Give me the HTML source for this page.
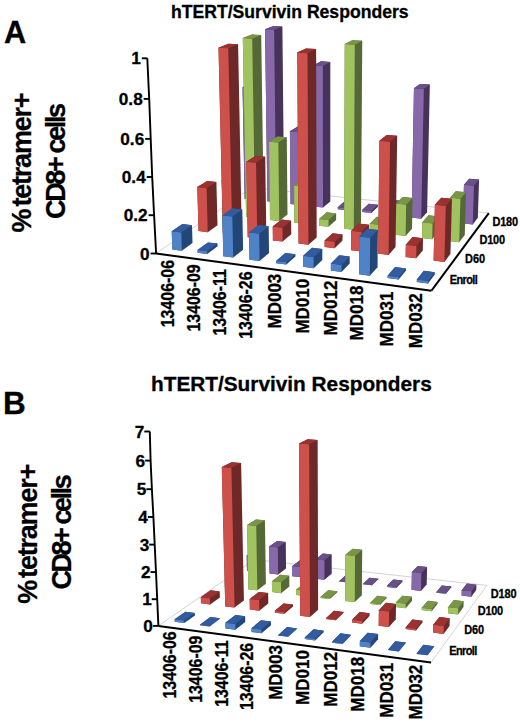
<!DOCTYPE html>
<html><head><meta charset="utf-8">
<title>hTERT/Survivin Responders</title>
<style>
html,body{margin:0;padding:0;background:#fff;}
body{width:520px;height:723px;overflow:hidden;}
svg{display:block;}
text{font-family:'Liberation Sans',sans-serif;font-weight:bold;stroke:#000;stroke-width:0.3px}
</style></head><body>
<svg width="520" height="723" viewBox="0 0 520 723">
<polyline points="156.00,253.50 252.00,187.40 488.80,213.10" fill="none" stroke="#d4d4d4" stroke-width="1"/>
<polygon points="244.66,198.77 253.27,199.74 261.50,193.86 259.85,83.62 251.16,82.98 242.57,87.16" fill="#46325a"/>
<polygon points="244.66,198.77 253.27,199.74 251.39,87.82 242.57,87.16" fill="#8769aa"/>
<polygon points="242.57,87.16 251.39,87.82 259.85,83.62 251.16,82.98" fill="#695087"/>
<polygon points="267.42,201.33 276.16,202.32 284.09,196.35 282.39,26.51 273.45,26.03 265.06,29.34" fill="#46325a"/>
<polygon points="267.42,201.33 276.16,202.32 274.13,29.84 265.06,29.34" fill="#8769aa"/>
<polygon points="265.06,29.34 274.13,29.84 282.39,26.51 273.45,26.03" fill="#695087"/>
<polygon points="290.53,203.94 299.40,204.93 307.02,198.88 306.66,127.20 297.77,126.43 289.90,131.36" fill="#46325a"/>
<polygon points="290.53,203.94 299.40,204.93 298.92,132.15 289.90,131.36" fill="#8769aa"/>
<polygon points="289.90,131.36 298.92,132.15 306.66,127.20 297.77,126.43" fill="#695087"/>
<polygon points="313.99,206.58 323.01,207.59 330.30,201.45 330.32,61.96 321.15,61.37 313.50,65.31" fill="#46325a"/>
<polygon points="313.99,206.58 323.01,207.59 322.80,65.92 313.50,65.31" fill="#8769aa"/>
<polygon points="313.50,65.31 322.80,65.92 330.32,61.96 321.15,61.37" fill="#695087"/>
<polygon points="337.83,209.26 346.98,210.29 353.94,204.06 353.95,202.05 344.92,201.06 337.83,207.23" fill="#46325a"/>
<polygon points="337.83,209.26 346.98,210.29 346.99,208.26 337.83,207.23" fill="#8769aa"/>
<polygon points="337.83,207.23 346.99,208.26 353.95,202.05 344.92,201.06" fill="#695087"/>
<polygon points="362.04,211.99 371.34,213.04 377.95,206.71 377.97,204.69 368.80,203.68 362.05,209.94" fill="#46325a"/>
<polygon points="362.04,211.99 371.34,213.04 371.36,210.98 362.05,209.94" fill="#8769aa"/>
<polygon points="362.05,209.94 371.36,210.98 377.97,204.69 368.80,203.68" fill="#695087"/>
<polygon points="386.63,214.76 396.08,215.82 402.33,209.40 402.47,200.90 393.14,199.90 386.74,206.15" fill="#46325a"/>
<polygon points="386.63,214.76 396.08,215.82 396.21,207.19 386.74,206.15" fill="#8769aa"/>
<polygon points="386.74,206.15 396.21,207.19 402.47,200.90 393.14,199.90" fill="#695087"/>
<polygon points="411.62,217.57 421.23,218.65 427.10,212.13 429.84,84.57 420.10,83.89 413.96,88.34" fill="#46325a"/>
<polygon points="411.62,217.57 421.23,218.65 423.84,89.04 413.96,88.34" fill="#8769aa"/>
<polygon points="413.96,88.34 423.84,89.04 429.84,84.57 420.10,83.89" fill="#695087"/>
<polygon points="437.02,220.43 446.77,221.53 452.27,214.91 452.41,209.74 442.79,208.69 437.14,215.20" fill="#46325a"/>
<polygon points="437.02,220.43 446.77,221.53 446.91,216.28 437.14,215.20" fill="#8769aa"/>
<polygon points="437.14,215.20 446.91,216.28 452.41,209.74 442.79,208.69" fill="#695087"/>
<polygon points="462.82,223.34 472.74,224.46 477.84,217.73 479.08,179.60 469.23,178.63 463.96,184.71" fill="#46325a"/>
<polygon points="462.82,223.34 472.74,224.46 473.96,185.72 463.96,184.71" fill="#8769aa"/>
<polygon points="463.96,184.71 473.96,185.72 479.08,179.60 469.23,178.63" fill="#695087"/>
<polygon points="222.57,214.25 231.47,215.30 240.40,208.92 239.74,174.92 230.89,173.99 221.75,179.81" fill="#556937"/>
<polygon points="222.57,214.25 231.47,215.30 230.72,180.77 221.75,179.81" fill="#a0c35f"/>
<polygon points="221.75,179.81 230.72,180.77 239.74,174.92 230.89,173.99" fill="#789646"/>
<polygon points="246.11,217.04 255.15,218.11 263.77,211.64 261.20,35.05 251.94,34.52 242.81,38.12" fill="#556937"/>
<polygon points="246.11,217.04 255.15,218.11 252.20,38.67 242.81,38.12" fill="#a0c35f"/>
<polygon points="242.81,38.12 252.20,38.67 261.20,35.05 251.94,34.52" fill="#789646"/>
<polygon points="270.03,219.88 279.22,220.97 287.50,214.40 286.78,137.25 277.56,136.42 269.00,141.74" fill="#556937"/>
<polygon points="270.03,219.88 279.22,220.97 278.35,142.60 269.00,141.74" fill="#a0c35f"/>
<polygon points="269.00,141.74 278.35,142.60 286.78,137.25 277.56,136.42" fill="#789646"/>
<polygon points="294.34,222.77 303.68,223.87 311.61,217.20 311.46,180.51 302.18,179.54 294.05,185.60" fill="#556937"/>
<polygon points="294.34,222.77 303.68,223.87 303.46,186.60 294.05,185.60" fill="#a0c35f"/>
<polygon points="294.05,185.60 303.46,186.60 311.46,180.51 302.18,179.54" fill="#789646"/>
<polygon points="319.04,225.70 328.54,226.82 336.10,220.04 336.11,213.43 326.74,212.36 319.03,219.00" fill="#556937"/>
<polygon points="319.04,225.70 328.54,226.82 328.53,220.11 319.03,219.00" fill="#a0c35f"/>
<polygon points="319.03,219.00 328.53,220.11 336.11,213.43 326.74,212.36" fill="#789646"/>
<polygon points="344.15,228.68 353.80,229.82 361.00,222.94 362.25,40.84 352.36,40.27 344.74,44.10" fill="#556937"/>
<polygon points="344.15,228.68 353.80,229.82 354.79,44.69 344.74,44.10" fill="#a0c35f"/>
<polygon points="344.74,44.10 354.79,44.69 362.25,40.84 352.36,40.27" fill="#789646"/>
<polygon points="369.68,231.71 379.49,232.87 386.30,225.88 386.40,217.92 376.72,216.82 369.75,223.65" fill="#556937"/>
<polygon points="369.68,231.71 379.49,232.87 379.58,224.79 369.75,223.65" fill="#a0c35f"/>
<polygon points="369.75,223.65 379.58,224.79 386.40,217.92 376.72,216.82" fill="#789646"/>
<polygon points="395.64,234.79 405.61,235.97 412.02,228.86 412.58,198.09 402.69,197.04 396.09,203.60" fill="#556937"/>
<polygon points="395.64,234.79 405.61,235.97 406.14,204.70 396.09,203.60" fill="#a0c35f"/>
<polygon points="396.09,203.60 406.14,204.70 412.58,198.09 402.69,197.04" fill="#789646"/>
<polygon points="422.03,237.92 432.18,239.13 438.17,231.90 438.54,216.45 428.52,215.33 422.35,222.26" fill="#556937"/>
<polygon points="422.03,237.92 432.18,239.13 432.53,223.42 422.35,222.26" fill="#a0c35f"/>
<polygon points="422.35,222.26 432.53,223.42 438.54,216.45 428.52,215.33" fill="#789646"/>
<polygon points="448.87,241.11 459.19,242.33 464.76,234.99 466.04,192.18 455.78,191.13 450.02,197.72" fill="#556937"/>
<polygon points="448.87,241.11 459.19,242.33 460.44,198.81 450.02,197.72" fill="#a0c35f"/>
<polygon points="450.02,197.72 460.44,198.81 466.04,192.18 455.78,191.13" fill="#789646"/>
<polygon points="198.54,231.08 207.76,232.23 217.49,225.28 216.41,181.90 207.24,180.91 197.27,187.12" fill="#6e2828"/>
<polygon points="198.54,231.08 207.76,232.23 206.57,188.15 197.27,187.12" fill="#cd504b"/>
<polygon points="197.27,187.12 206.57,188.15 216.41,181.90 207.24,180.91" fill="#9b3232"/>
<polygon points="222.92,234.13 232.29,235.31 241.68,228.25 238.10,44.35 228.50,43.77 218.52,47.71" fill="#6e2828"/>
<polygon points="222.92,234.13 232.29,235.31 228.26,48.32 218.52,47.71" fill="#cd504b"/>
<polygon points="218.52,47.71 228.26,48.32 238.10,44.35 228.50,43.77" fill="#9b3232"/>
<polygon points="247.71,237.24 257.24,238.44 266.26,231.27 265.22,156.70 255.68,155.76 246.34,161.67" fill="#6e2828"/>
<polygon points="247.71,237.24 257.24,238.44 256.02,162.63 246.34,161.67" fill="#cd504b"/>
<polygon points="246.34,161.67 256.02,162.63 265.22,156.70 255.68,155.76" fill="#9b3232"/>
<polygon points="272.92,240.40 282.61,241.62 291.26,234.33 291.14,220.66 281.57,219.52 272.75,226.54" fill="#6e2828"/>
<polygon points="272.92,240.40 282.61,241.62 282.47,227.72 272.75,226.54" fill="#cd504b"/>
<polygon points="272.75,226.54 282.47,227.72 291.14,220.66 281.57,219.52" fill="#9b3232"/>
<polygon points="298.56,243.62 308.42,244.85 316.68,237.45 316.13,49.10 306.02,48.49 297.24,52.62" fill="#6e2828"/>
<polygon points="298.56,243.62 308.42,244.85 307.51,53.26 297.24,52.62" fill="#cd504b"/>
<polygon points="297.24,52.62 307.51,53.26 316.13,49.10 306.02,48.49" fill="#9b3232"/>
<polygon points="324.64,246.89 334.67,248.15 342.53,240.62 342.55,234.42 332.66,233.22 324.63,240.60" fill="#6e2828"/>
<polygon points="324.64,246.89 334.67,248.15 334.67,241.84 324.63,240.60" fill="#cd504b"/>
<polygon points="324.63,240.60 334.67,241.84 342.55,234.42 332.66,233.22" fill="#9b3232"/>
<polygon points="351.17,250.22 361.37,251.50 368.82,243.84 368.99,224.66 358.90,223.49 351.26,230.77" fill="#6e2828"/>
<polygon points="351.17,250.22 361.37,251.50 361.51,231.99 351.26,230.77" fill="#cd504b"/>
<polygon points="351.26,230.77 361.51,231.99 368.99,224.66 358.90,223.49" fill="#9b3232"/>
<polygon points="378.17,253.60 388.55,254.90 395.56,247.12 397.19,135.79 386.71,134.88 379.38,140.70" fill="#6e2828"/>
<polygon points="378.17,253.60 388.55,254.90 390.03,141.65 379.38,140.70" fill="#cd504b"/>
<polygon points="379.38,140.70 390.03,141.65 397.19,135.79 386.71,134.88" fill="#9b3232"/>
<polygon points="405.64,257.05 416.21,258.37 422.77,250.46 423.02,238.30 412.60,237.06 405.85,244.72" fill="#6e2828"/>
<polygon points="405.64,257.05 416.21,258.37 416.45,246.01 405.85,244.72" fill="#cd504b"/>
<polygon points="405.85,244.72 416.45,246.01 423.02,238.30 412.60,237.06" fill="#9b3232"/>
<polygon points="433.61,260.56 444.36,261.90 450.46,253.86 451.94,198.85 441.22,197.72 434.89,204.76" fill="#6e2828"/>
<polygon points="433.61,260.56 444.36,261.90 445.79,205.94 434.89,204.76" fill="#cd504b"/>
<polygon points="434.89,204.76 445.79,205.94 451.94,198.85 441.22,197.72" fill="#9b3232"/>
<polygon points="172.32,249.44 181.88,250.71 192.51,243.12 191.96,225.16 182.51,223.99 171.69,231.23" fill="#234678"/>
<polygon points="172.32,249.44 181.88,250.71 181.28,232.45 171.69,231.23" fill="#5082c8"/>
<polygon points="171.69,231.23 181.28,232.45 191.96,225.16 182.51,223.99" fill="#325c9e"/>
<polygon points="197.60,252.80 207.32,254.09 217.58,246.37 217.51,243.61 207.93,242.38 197.52,250.00" fill="#234678"/>
<polygon points="197.60,252.80 207.32,254.09 207.24,251.28 197.52,250.00" fill="#5082c8"/>
<polygon points="197.52,250.00 207.24,251.28 217.51,243.61 207.93,242.38" fill="#325c9e"/>
<polygon points="223.32,256.22 233.21,257.53 243.09,249.68 242.31,209.45 232.49,208.31 222.35,215.43" fill="#234678"/>
<polygon points="223.32,256.22 233.21,257.53 232.33,216.62 222.35,215.43" fill="#5082c8"/>
<polygon points="222.35,215.43 232.33,216.62 242.31,209.45 232.49,208.31" fill="#325c9e"/>
<polygon points="249.49,259.70 259.56,261.03 269.04,253.05 268.67,226.16 258.70,224.96 249.01,232.43" fill="#234678"/>
<polygon points="249.49,259.70 259.56,261.03 259.13,233.68 249.01,232.43" fill="#5082c8"/>
<polygon points="249.01,232.43 259.13,233.68 268.67,226.16 258.70,224.96" fill="#325c9e"/>
<polygon points="276.14,263.24 286.39,264.60 295.44,256.48 295.43,254.22 285.33,252.91 276.11,260.94" fill="#234678"/>
<polygon points="276.14,263.24 286.39,264.60 286.36,262.30 276.11,260.94" fill="#5082c8"/>
<polygon points="276.11,260.94 286.36,262.30 295.43,254.22 285.33,252.91" fill="#325c9e"/>
<polygon points="303.26,266.84 313.69,268.23 322.32,259.97 322.30,249.11 312.01,247.81 303.19,255.83" fill="#234678"/>
<polygon points="303.26,266.84 313.69,268.23 313.65,257.18 303.19,255.83" fill="#5082c8"/>
<polygon points="303.19,255.83 313.65,257.18 322.30,249.11 312.01,247.81" fill="#325c9e"/>
<polygon points="330.88,270.51 341.50,271.92 349.68,263.52 349.71,256.61 339.24,255.28 330.88,263.51" fill="#234678"/>
<polygon points="330.88,270.51 341.50,271.92 341.52,264.89 330.88,263.51" fill="#5082c8"/>
<polygon points="330.88,263.51 341.52,264.89 349.71,256.61 339.24,255.28" fill="#325c9e"/>
<polygon points="359.00,274.25 369.82,275.68 377.53,267.13 377.92,229.95 367.19,228.68 359.24,236.52" fill="#234678"/>
<polygon points="359.00,274.25 369.82,275.68 370.16,237.84 359.24,236.52" fill="#5082c8"/>
<polygon points="359.24,236.52 370.16,237.84 377.92,229.95 367.19,228.68" fill="#325c9e"/>
<polygon points="387.64,278.05 398.67,279.52 405.89,270.81 405.93,268.48 395.08,267.08 387.67,275.68" fill="#234678"/>
<polygon points="387.64,278.05 398.67,279.52 398.71,277.14 387.67,275.68" fill="#5082c8"/>
<polygon points="387.67,275.68 398.71,277.14 405.93,268.48 395.08,267.08" fill="#325c9e"/>
<polygon points="416.82,281.93 428.06,283.42 434.77,274.56 434.83,272.21 423.78,270.78 416.87,279.54" fill="#234678"/>
<polygon points="416.82,281.93 428.06,283.42 428.11,281.02 416.87,279.54" fill="#5082c8"/>
<polygon points="416.87,279.54 428.11,281.02 434.83,272.21 423.78,270.78" fill="#325c9e"/>
<line x1="156.00" y1="253.50" x2="431.50" y2="290.70" stroke="#000" stroke-width="2"/>
<line x1="431.50" y1="290.70" x2="488.80" y2="213.10" stroke="#000" stroke-width="2"/>
<polyline points="156.10,253.50 154.10,215.20 152.20,177.00 150.70,138.90 149.20,98.90 147.30,58.30" fill="none" stroke="#000" stroke-width="1.9"/>
<line x1="150.60" y1="253.50" x2="156.10" y2="253.50" stroke="#000" stroke-width="1.9"/>
<line x1="148.60" y1="215.20" x2="154.10" y2="215.20" stroke="#000" stroke-width="1.9"/>
<line x1="146.70" y1="177.00" x2="152.20" y2="177.00" stroke="#000" stroke-width="1.9"/>
<line x1="145.20" y1="138.90" x2="150.70" y2="138.90" stroke="#000" stroke-width="1.9"/>
<line x1="143.70" y1="98.90" x2="149.20" y2="98.90" stroke="#000" stroke-width="1.9"/>
<line x1="141.80" y1="58.30" x2="147.30" y2="58.30" stroke="#000" stroke-width="1.9"/>
<polyline points="158.40,625.90 254.30,559.60 486.90,585.40" fill="none" stroke="#d4d4d4" stroke-width="1"/>
<line x1="431.00" y1="662.60" x2="486.90" y2="585.40" stroke="#d4d4d4" stroke-width="1"/>
<polygon points="246.98,570.96 255.52,571.94 263.70,566.07 263.46,550.78 255.01,549.87 246.68,555.48" fill="#46325a"/>
<polygon points="246.98,570.96 255.52,571.94 255.24,556.42 246.68,555.48" fill="#8769aa"/>
<polygon points="246.68,555.48 255.24,556.42 263.46,550.78 255.01,549.87" fill="#695087"/>
<polygon points="269.54,573.55 278.19,574.54 286.05,568.59 285.77,541.89 277.19,540.99 269.15,546.50" fill="#46325a"/>
<polygon points="269.54,573.55 278.19,574.54 277.85,547.43 269.15,546.50" fill="#8769aa"/>
<polygon points="269.15,546.50 277.85,547.43 285.77,541.89 277.19,540.99" fill="#695087"/>
<polygon points="292.40,576.17 301.17,577.17 308.71,571.14 308.65,561.14 299.99,560.19 292.31,566.05" fill="#46325a"/>
<polygon points="292.40,576.17 301.17,577.17 301.10,567.03 292.31,566.05" fill="#8769aa"/>
<polygon points="292.31,566.05 301.10,567.03 308.65,561.14 299.99,560.19" fill="#695087"/>
<polygon points="315.58,578.82 324.47,579.84 331.67,573.72 331.67,554.53 322.87,553.59 315.51,559.38" fill="#46325a"/>
<polygon points="315.58,578.82 324.47,579.84 324.44,560.36 315.51,559.38" fill="#8769aa"/>
<polygon points="315.51,559.38 324.44,560.36 331.67,554.53 322.87,553.59" fill="#695087"/>
<polygon points="339.07,581.52 348.09,582.55 354.94,576.34 354.94,576.06 346.06,575.06 339.07,581.23" fill="#46325a"/>
<polygon points="339.07,581.52 348.09,582.55 348.09,582.26 339.07,581.23" fill="#8769aa"/>
<polygon points="339.07,581.23 348.09,582.26 354.94,576.06 346.06,575.06" fill="#695087"/>
<polygon points="362.90,584.25 372.04,585.29 378.53,578.99 378.54,578.71 369.53,577.70 362.90,583.96" fill="#46325a"/>
<polygon points="362.90,584.25 372.04,585.29 372.04,585.00 362.90,583.96" fill="#8769aa"/>
<polygon points="362.90,583.96 372.04,585.00 378.54,578.71 369.53,577.70" fill="#695087"/>
<polygon points="387.05,587.01 396.32,588.08 402.45,581.69 402.47,580.49 393.34,579.47 387.07,585.80" fill="#46325a"/>
<polygon points="387.05,587.01 396.32,588.08 396.34,586.86 387.07,585.80" fill="#8769aa"/>
<polygon points="387.07,585.80 396.34,586.86 402.47,580.49 393.34,579.47" fill="#695087"/>
<polygon points="411.55,589.82 420.95,590.90 426.70,584.42 427.09,566.90 417.80,565.90 411.88,572.07" fill="#46325a"/>
<polygon points="411.55,589.82 420.95,590.90 421.33,573.10 411.88,572.07" fill="#8769aa"/>
<polygon points="411.88,572.07 421.33,573.10 427.09,566.90 417.80,565.90" fill="#695087"/>
<polygon points="436.40,592.67 445.93,593.76 451.29,587.18 451.31,586.46 441.93,585.40 436.41,591.93" fill="#46325a"/>
<polygon points="436.40,592.67 445.93,593.76 445.95,593.02 436.41,591.93" fill="#8769aa"/>
<polygon points="436.41,591.93 445.95,593.02 451.31,586.46 441.93,585.40" fill="#695087"/>
<polygon points="461.60,595.55 471.27,596.66 476.23,589.99 476.41,584.68 466.88,583.62 461.76,590.17" fill="#46325a"/>
<polygon points="461.60,595.55 471.27,596.66 471.45,591.26 461.76,590.17" fill="#8769aa"/>
<polygon points="461.76,590.17 471.45,591.26 476.41,584.68 466.88,583.62" fill="#695087"/>
<polygon points="224.98,586.45 233.82,587.51 242.72,581.12 242.62,576.34 233.89,575.32 224.86,581.60" fill="#556937"/>
<polygon points="224.98,586.45 233.82,587.51 233.71,582.65 224.86,581.60" fill="#a0c35f"/>
<polygon points="224.86,581.60 233.71,582.65 242.62,576.34 233.89,575.32" fill="#789646"/>
<polygon points="248.36,589.25 257.33,590.33 265.89,583.85 264.92,520.37 255.95,519.49 247.11,524.91" fill="#556937"/>
<polygon points="248.36,589.25 257.33,590.33 256.21,525.83 247.11,524.91" fill="#a0c35f"/>
<polygon points="247.11,524.91 256.21,525.83 264.92,520.37 255.95,519.49" fill="#789646"/>
<polygon points="272.07,592.10 281.17,593.19 289.37,586.62 289.27,575.87 280.28,574.84 271.92,581.20" fill="#556937"/>
<polygon points="272.07,592.10 281.17,593.19 281.04,582.27 271.92,581.20" fill="#a0c35f"/>
<polygon points="271.92,581.20 281.04,582.27 289.27,575.87 280.28,574.84" fill="#789646"/>
<polygon points="296.12,594.99 305.35,596.09 313.20,589.42 313.17,584.28 304.07,583.22 296.08,589.77" fill="#556937"/>
<polygon points="296.12,594.99 305.35,596.09 305.32,590.86 296.08,589.77" fill="#a0c35f"/>
<polygon points="296.08,589.77 305.32,590.86 313.17,584.28 304.07,583.22" fill="#789646"/>
<polygon points="320.52,597.91 329.88,599.04 337.35,592.27 337.36,591.34 328.13,590.25 320.52,596.97" fill="#556937"/>
<polygon points="320.52,597.91 329.88,599.04 329.88,598.09 320.52,596.97" fill="#a0c35f"/>
<polygon points="320.52,596.97 329.88,598.09 337.36,591.34 328.13,590.25" fill="#789646"/>
<polygon points="345.27,600.89 354.77,602.03 361.86,595.16 362.19,549.76 352.73,548.77 345.42,554.86" fill="#556937"/>
<polygon points="345.27,600.89 354.77,602.03 355.03,555.88 345.42,554.86" fill="#a0c35f"/>
<polygon points="345.42,554.86 355.03,555.88 362.19,549.76 352.73,548.77" fill="#789646"/>
<polygon points="370.39,603.90 380.03,605.06 386.72,598.08 386.73,596.96 377.24,595.85 370.40,602.77" fill="#556937"/>
<polygon points="370.39,603.90 380.03,605.06 380.04,603.92 370.40,602.77" fill="#a0c35f"/>
<polygon points="370.40,602.77 380.04,603.92 386.73,596.96 377.24,595.85" fill="#789646"/>
<polygon points="395.87,606.96 405.65,608.13 411.94,601.05 412.02,596.75 402.38,595.63 395.94,602.59" fill="#556937"/>
<polygon points="395.87,606.96 405.65,608.13 405.73,603.76 395.94,602.59" fill="#a0c35f"/>
<polygon points="395.94,602.59 405.73,603.76 412.02,596.75 402.38,595.63" fill="#789646"/>
<polygon points="421.73,610.06 431.66,611.25 437.52,604.07 437.58,601.90 427.81,600.76 421.78,607.87" fill="#556937"/>
<polygon points="421.73,610.06 431.66,611.25 431.72,609.05 421.78,607.87" fill="#a0c35f"/>
<polygon points="421.78,607.87 431.72,609.05 437.58,601.90 427.81,600.76" fill="#789646"/>
<polygon points="447.99,613.21 458.06,614.42 463.49,607.12 463.68,601.16 453.75,600.01 448.15,607.17" fill="#556937"/>
<polygon points="447.99,613.21 458.06,614.42 458.25,608.36 448.15,607.17" fill="#a0c35f"/>
<polygon points="448.15,607.17 458.25,608.36 463.68,601.16 453.75,600.01" fill="#789646"/>
<polygon points="200.99,603.33 210.17,604.48 219.88,597.51 219.72,591.41 210.67,590.31 200.80,597.14" fill="#6e2828"/>
<polygon points="200.99,603.33 210.17,604.48 209.99,598.28 200.80,597.14" fill="#cd504b"/>
<polygon points="200.80,597.14 209.99,598.28 219.72,591.41 210.67,590.31" fill="#9b3232"/>
<polygon points="225.25,606.39 234.57,607.56 243.92,600.48 241.11,463.00 231.65,462.22 221.79,466.92" fill="#6e2828"/>
<polygon points="225.25,606.39 234.57,607.56 231.40,467.72 221.79,466.92" fill="#cd504b"/>
<polygon points="221.79,466.92 231.40,467.72 241.11,463.00 231.65,462.22" fill="#9b3232"/>
<polygon points="249.88,609.49 259.33,610.68 268.30,603.50 268.15,593.09 258.82,591.96 249.68,598.93" fill="#6e2828"/>
<polygon points="249.88,609.49 259.33,610.68 259.15,600.10 249.68,598.93" fill="#cd504b"/>
<polygon points="249.68,598.93 259.15,600.10 268.15,593.09 258.82,591.96" fill="#9b3232"/>
<polygon points="274.87,612.64 284.47,613.85 293.05,606.55 293.03,604.62 283.58,603.46 274.85,610.68" fill="#6e2828"/>
<polygon points="274.87,612.64 284.47,613.85 284.45,611.89 274.85,610.68" fill="#cd504b"/>
<polygon points="274.85,610.68 284.45,611.89 293.03,604.62 283.58,603.46" fill="#9b3232"/>
<polygon points="300.24,615.83 309.98,617.06 318.16,609.66 317.65,439.95 307.68,439.22 298.99,443.61" fill="#6e2828"/>
<polygon points="300.24,615.83 309.98,617.06 309.13,444.37 298.99,443.61" fill="#cd504b"/>
<polygon points="298.99,443.61 309.13,444.37 317.65,439.95 307.68,439.22" fill="#9b3232"/>
<polygon points="326.00,619.08 335.89,620.33 343.65,612.80 343.65,611.93 333.92,610.73 326.00,618.19" fill="#6e2828"/>
<polygon points="326.00,619.08 335.89,620.33 335.89,619.44 326.00,618.19" fill="#cd504b"/>
<polygon points="326.00,618.19 335.89,619.44 343.65,611.93 333.92,610.73" fill="#9b3232"/>
<polygon points="352.15,622.38 362.19,623.64 369.52,616.00 369.55,613.31 359.66,612.09 352.16,619.64" fill="#6e2828"/>
<polygon points="352.15,622.38 362.19,623.64 362.21,620.90 352.16,619.64" fill="#cd504b"/>
<polygon points="352.16,619.64 362.21,620.90 369.55,613.31 359.66,612.09" fill="#9b3232"/>
<polygon points="378.70,625.72 388.90,627.01 395.79,619.25 396.02,603.89 385.96,602.69 378.88,610.15" fill="#6e2828"/>
<polygon points="378.70,625.72 388.90,627.01 389.11,611.39 378.88,610.15" fill="#cd504b"/>
<polygon points="378.88,610.15 389.11,611.39 396.02,603.89 385.96,602.69" fill="#9b3232"/>
<polygon points="405.67,629.12 416.03,630.43 422.46,622.54 422.50,620.83 412.31,619.58 405.70,627.39" fill="#6e2828"/>
<polygon points="405.67,629.12 416.03,630.43 416.06,628.69 405.70,627.39" fill="#cd504b"/>
<polygon points="405.70,627.39 416.06,628.69 422.50,620.83 412.31,619.58" fill="#9b3232"/>
<polygon points="433.06,632.57 443.58,633.90 449.54,625.89 449.75,618.24 439.40,616.98 433.25,624.81" fill="#6e2828"/>
<polygon points="433.06,632.57 443.58,633.90 443.79,626.12 433.25,624.81" fill="#cd504b"/>
<polygon points="433.25,624.81 443.79,626.12 449.75,618.24 439.40,616.98" fill="#9b3232"/>
<polygon points="174.74,621.80 184.28,623.06 194.92,615.42 194.84,612.88 185.45,611.67 174.65,619.22" fill="#234678"/>
<polygon points="174.74,621.80 184.28,623.06 184.19,620.48 174.65,619.22" fill="#5082c8"/>
<polygon points="174.65,619.22 184.19,620.48 194.84,612.88 185.45,611.67" fill="#325c9e"/>
<polygon points="199.96,625.14 209.64,626.43 219.89,618.67 219.88,618.28 210.35,617.04 199.94,624.75" fill="#234678"/>
<polygon points="199.96,625.14 209.64,626.43 209.63,626.03 199.94,624.75" fill="#5082c8"/>
<polygon points="199.94,624.75 209.63,626.03 219.88,618.28 210.35,617.04" fill="#325c9e"/>
<polygon points="225.56,628.54 235.40,629.85 245.24,621.96 245.13,616.31 235.44,615.06 225.42,622.80" fill="#234678"/>
<polygon points="225.56,628.54 235.40,629.85 235.27,624.09 225.42,622.80" fill="#5082c8"/>
<polygon points="225.42,622.80 235.27,624.09 245.13,616.31 235.44,615.06" fill="#325c9e"/>
<polygon points="251.57,631.99 261.56,633.32 270.98,625.31 270.93,621.52 261.09,620.25 251.50,628.15" fill="#234678"/>
<polygon points="251.57,631.99 261.56,633.32 261.50,629.47 251.50,628.15" fill="#5082c8"/>
<polygon points="251.50,628.15 261.50,629.47 270.93,621.52 261.09,620.25" fill="#325c9e"/>
<polygon points="277.99,635.50 288.14,636.85 297.13,628.71 297.13,628.39 287.14,627.09 277.99,635.17" fill="#234678"/>
<polygon points="277.99,635.50 288.14,636.85 288.14,636.52 277.99,635.17" fill="#5082c8"/>
<polygon points="277.99,635.17 288.14,636.52 297.13,628.39 287.14,627.09" fill="#325c9e"/>
<polygon points="304.83,639.06 315.15,640.43 323.68,632.16 323.68,630.63 313.54,629.31 304.82,637.51" fill="#234678"/>
<polygon points="304.83,639.06 315.15,640.43 315.14,638.87 304.82,637.51" fill="#5082c8"/>
<polygon points="304.82,637.51 315.14,638.87 323.68,630.63 313.54,629.31" fill="#325c9e"/>
<polygon points="332.11,642.68 342.59,644.07 350.66,635.66 350.66,634.69 340.36,633.35 332.11,641.69" fill="#234678"/>
<polygon points="332.11,642.68 342.59,644.07 342.59,643.08 332.11,641.69" fill="#5082c8"/>
<polygon points="332.11,641.69 342.59,643.08 350.66,634.69 340.36,633.35" fill="#325c9e"/>
<polygon points="359.82,646.36 370.47,647.77 378.06,639.22 378.12,634.02 367.64,632.67 359.86,641.08" fill="#234678"/>
<polygon points="359.82,646.36 370.47,647.77 370.52,642.47 359.86,641.08" fill="#5082c8"/>
<polygon points="359.86,641.08 370.52,642.47 378.12,634.02 367.64,632.67" fill="#325c9e"/>
<polygon points="387.99,650.10 398.82,651.53 405.91,642.84 405.91,642.51 395.28,641.13 388.00,649.76" fill="#234678"/>
<polygon points="387.99,650.10 398.82,651.53 398.82,651.20 388.00,649.76" fill="#5082c8"/>
<polygon points="388.00,649.76 398.82,651.20 405.91,642.51 395.28,641.13" fill="#325c9e"/>
<polygon points="416.62,653.90 427.63,655.36 434.20,646.52 434.21,646.19 423.40,644.78 416.63,653.56" fill="#234678"/>
<polygon points="416.62,653.90 427.63,655.36 427.64,655.02 416.63,653.56" fill="#5082c8"/>
<polygon points="416.63,653.56 427.64,655.02 434.21,646.19 423.40,644.78" fill="#325c9e"/>
<line x1="158.40" y1="625.90" x2="431.00" y2="662.60" stroke="#000" stroke-width="2"/>
<polyline points="158.40,625.90 157.20,599.20 156.00,572.10 154.70,544.60 153.40,517.00 151.90,489.20 150.60,460.60 149.80,431.50" fill="none" stroke="#000" stroke-width="1.9"/>
<line x1="152.90" y1="625.90" x2="158.40" y2="625.90" stroke="#000" stroke-width="1.9"/>
<line x1="151.70" y1="599.20" x2="157.20" y2="599.20" stroke="#000" stroke-width="1.9"/>
<line x1="150.50" y1="572.10" x2="156.00" y2="572.10" stroke="#000" stroke-width="1.9"/>
<line x1="149.20" y1="544.60" x2="154.70" y2="544.60" stroke="#000" stroke-width="1.9"/>
<line x1="147.90" y1="517.00" x2="153.40" y2="517.00" stroke="#000" stroke-width="1.9"/>
<line x1="146.40" y1="489.20" x2="151.90" y2="489.20" stroke="#000" stroke-width="1.9"/>
<line x1="145.10" y1="460.60" x2="150.60" y2="460.60" stroke="#000" stroke-width="1.9"/>
<line x1="144.30" y1="431.50" x2="149.80" y2="431.50" stroke="#000" stroke-width="1.9"/>
<g fill="#000"><text transform="translate(4.00,43.10)" font-size="30.70" text-anchor="start">A</text>
<text transform="translate(3.00,414.10)" font-size="31.50" text-anchor="start">B</text>
<text transform="translate(171.00,17.50)" font-size="17.60" text-anchor="start">hTERT/Survivin Responders</text>
<text transform="translate(151.00,390.80) scale(1.010,1)" font-size="20.60" text-anchor="start">hTERT/Survivin Responders</text>
<text transform="translate(30.90,232.50) rotate(-90)" font-size="27.00" text-anchor="start">%</text>
<text transform="translate(30.90,206.60) rotate(-90)" font-size="27.00" text-anchor="start" letter-spacing="-1.20">tetramer+</text>
<text transform="translate(65.00,218.90) rotate(-90)" font-size="27.00" text-anchor="start" letter-spacing="-2.37">CD8+ cells</text>
<text transform="translate(36.80,603.80) rotate(-90)" font-size="27.00" text-anchor="start">%</text>
<text transform="translate(36.80,577.90) rotate(-90)" font-size="27.00" text-anchor="start" letter-spacing="-1.20">tetramer+</text>
<text transform="translate(71.00,589.60) rotate(-90)" font-size="27.00" text-anchor="start" letter-spacing="-2.45">CD8+ cells</text>
<text transform="translate(149.60,259.50)" font-size="17.20" text-anchor="end">0</text>
<text transform="translate(147.60,221.20)" font-size="17.20" text-anchor="end">0.2</text>
<text transform="translate(145.70,183.00)" font-size="17.20" text-anchor="end">0.4</text>
<text transform="translate(144.20,144.90)" font-size="17.20" text-anchor="end">0.6</text>
<text transform="translate(142.70,104.90)" font-size="17.20" text-anchor="end">0.8</text>
<text transform="translate(140.80,64.30)" font-size="17.20" text-anchor="end">1</text>
<text transform="translate(152.90,631.90)" font-size="17.20" text-anchor="end">0</text>
<text transform="translate(151.70,605.20)" font-size="17.20" text-anchor="end">1</text>
<text transform="translate(150.50,578.10)" font-size="17.20" text-anchor="end">2</text>
<text transform="translate(149.20,550.60)" font-size="17.20" text-anchor="end">3</text>
<text transform="translate(147.90,523.00)" font-size="17.20" text-anchor="end">4</text>
<text transform="translate(146.40,495.20)" font-size="17.20" text-anchor="end">5</text>
<text transform="translate(145.10,466.60)" font-size="17.20" text-anchor="end">6</text>
<text transform="translate(144.30,437.50)" font-size="17.20" text-anchor="end">7</text>
<text transform="translate(173.70,260.00) rotate(-90) scale(0.870,1)" font-size="18.30" text-anchor="end">13406-06</text>
<text transform="translate(175.91,631.30) rotate(-90) scale(0.870,1)" font-size="18.30" text-anchor="end">13406-06</text>
<text transform="translate(200.40,264.30) rotate(-90) scale(0.870,1)" font-size="18.30" text-anchor="end">13406-09</text>
<text transform="translate(202.33,635.60) rotate(-90) scale(0.870,1)" font-size="18.30" text-anchor="end">13406-09</text>
<text transform="translate(226.40,269.20) rotate(-90) scale(0.870,1)" font-size="18.30" text-anchor="end">13406-11</text>
<text transform="translate(228.06,640.50) rotate(-90) scale(0.870,1)" font-size="18.30" text-anchor="end">13406-11</text>
<text transform="translate(252.10,271.50) rotate(-90) scale(0.870,1)" font-size="18.30" text-anchor="end">13406-26</text>
<text transform="translate(253.49,642.80) rotate(-90) scale(0.870,1)" font-size="18.30" text-anchor="end">13406-26</text>
<text transform="translate(280.80,273.70) rotate(-90) scale(0.930,1)" font-size="18.30" text-anchor="end">MD003</text>
<text transform="translate(281.89,645.00) rotate(-90) scale(0.930,1)" font-size="18.30" text-anchor="end">MD003</text>
<text transform="translate(308.50,278.80) rotate(-90) scale(0.930,1)" font-size="18.30" text-anchor="end">MD010</text>
<text transform="translate(309.30,650.10) rotate(-90) scale(0.930,1)" font-size="18.30" text-anchor="end">MD010</text>
<text transform="translate(336.80,280.60) rotate(-90) scale(0.930,1)" font-size="18.30" text-anchor="end">MD012</text>
<text transform="translate(337.30,651.90) rotate(-90) scale(0.930,1)" font-size="18.30" text-anchor="end">MD012</text>
<text transform="translate(363.40,285.60) rotate(-90) scale(0.930,1)" font-size="18.30" text-anchor="end">MD018</text>
<text transform="translate(363.62,656.90) rotate(-90) scale(0.930,1)" font-size="18.30" text-anchor="end">MD018</text>
<text transform="translate(392.80,291.60) rotate(-90) scale(0.930,1)" font-size="18.30" text-anchor="end">MD031</text>
<text transform="translate(392.71,662.90) rotate(-90) scale(0.930,1)" font-size="18.30" text-anchor="end">MD031</text>
<text transform="translate(422.20,293.40) rotate(-90) scale(0.930,1)" font-size="18.30" text-anchor="end">MD032</text>
<text transform="translate(421.80,664.70) rotate(-90) scale(0.930,1)" font-size="18.30" text-anchor="end">MD032</text>
<text transform="translate(449.80,283.90) scale(0.900,1)" font-size="12.20" text-anchor="start" letter-spacing="-0.71">Enroll</text>
<text transform="translate(465.10,263.00) scale(0.900,1)" font-size="12.20" text-anchor="start" letter-spacing="-0.10">D60</text>
<text transform="translate(479.60,243.60) scale(0.900,1)" font-size="12.20" text-anchor="start" letter-spacing="-0.30">D100</text>
<text transform="translate(492.40,226.40) scale(0.900,1)" font-size="12.20" text-anchor="start" letter-spacing="-0.19">D180</text>
<text transform="translate(449.30,655.20) scale(0.900,1)" font-size="12.20" text-anchor="start" letter-spacing="-0.71">Enroll</text>
<text transform="translate(464.20,634.10) scale(0.900,1)" font-size="12.20" text-anchor="start" letter-spacing="-0.10">D60</text>
<text transform="translate(477.80,615.40) scale(0.900,1)" font-size="12.20" text-anchor="start" letter-spacing="-0.30">D100</text>
<text transform="translate(490.80,598.40) scale(0.900,1)" font-size="12.20" text-anchor="start" letter-spacing="-0.19">D180</text></g>
</svg>
</body></html>
